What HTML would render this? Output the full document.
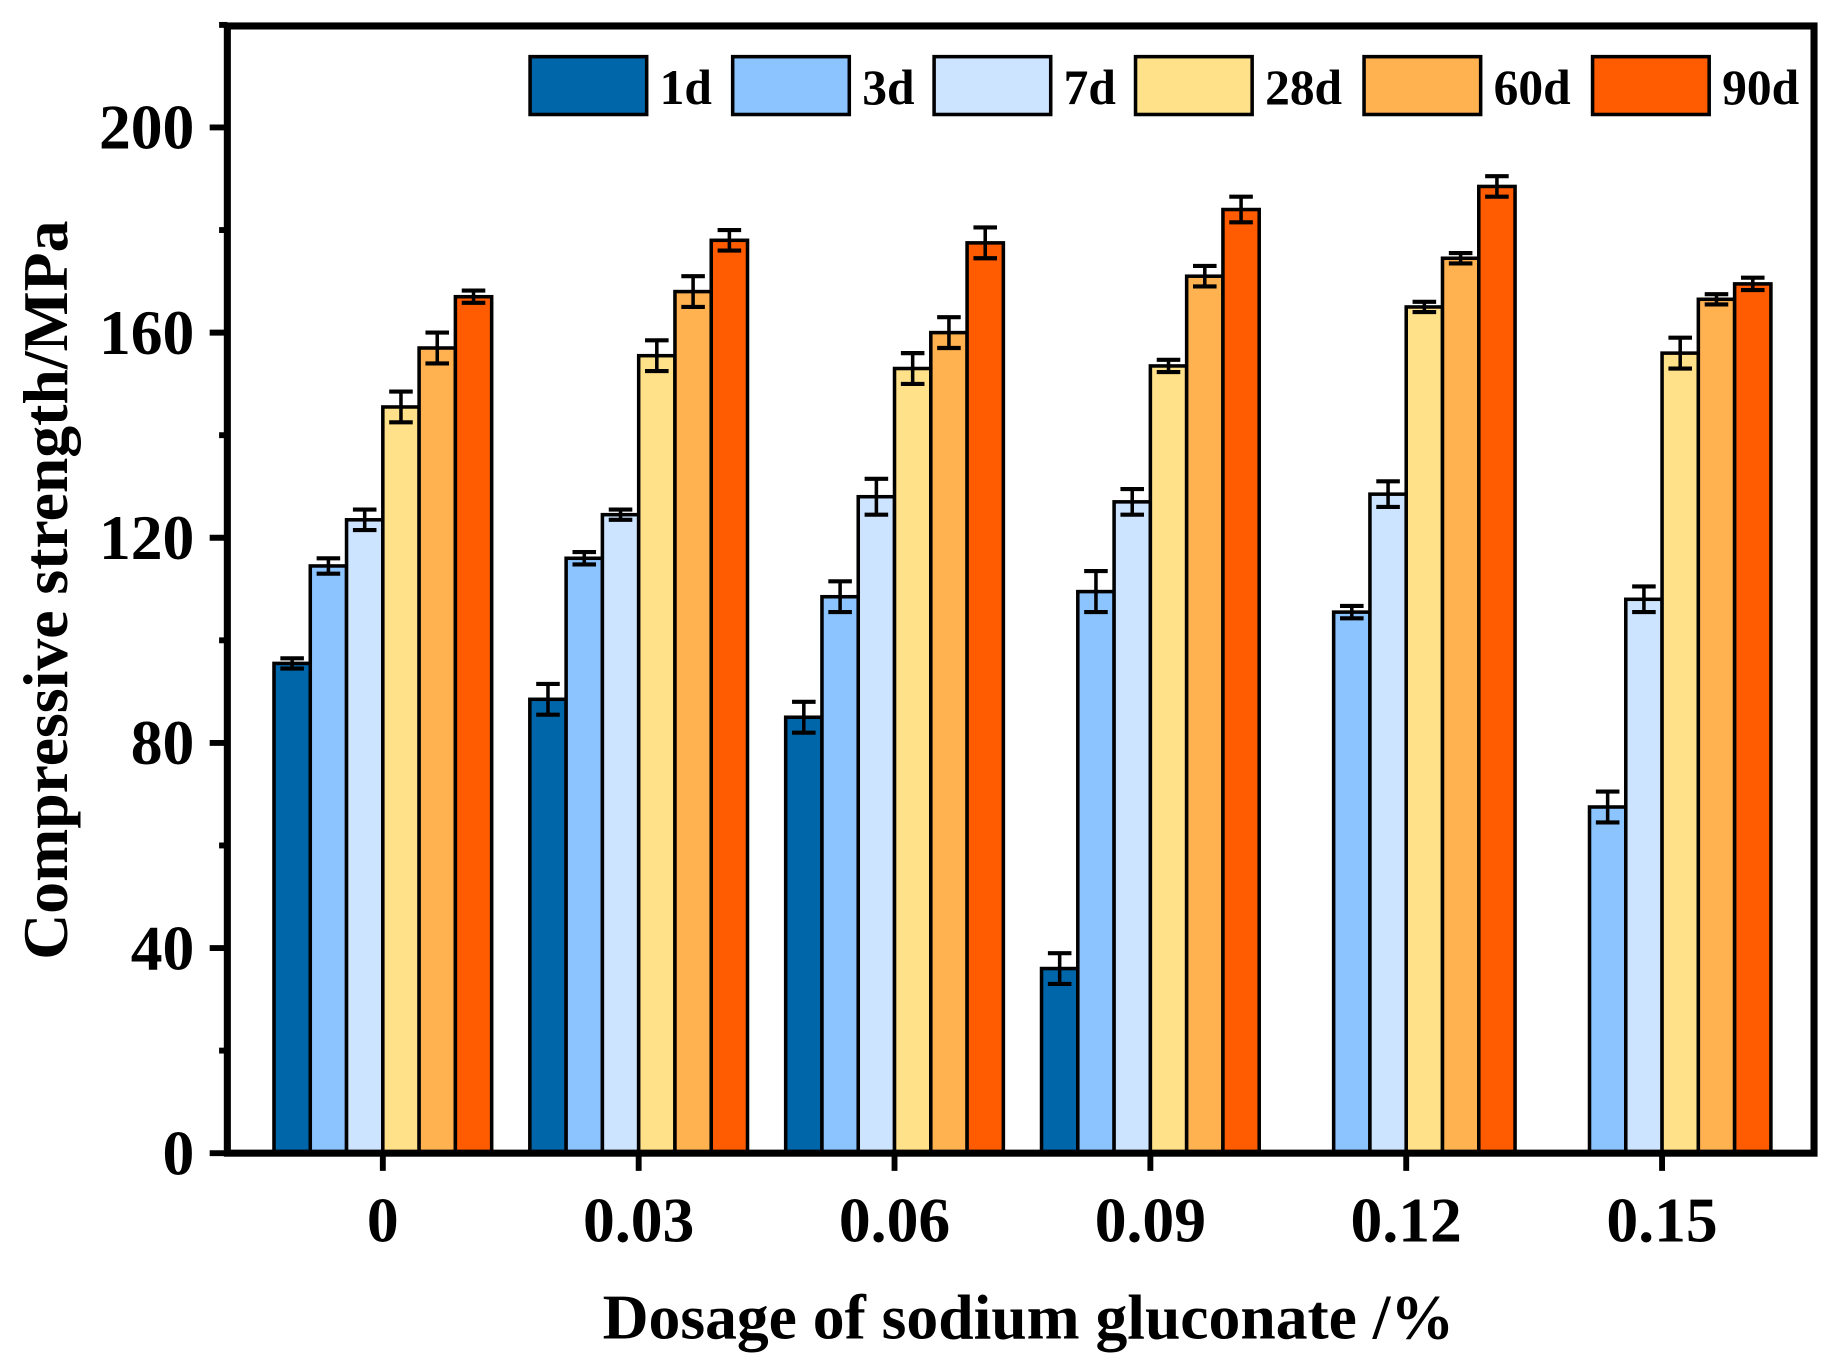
<!DOCTYPE html>
<html><head><meta charset="utf-8"><style>
html,body{margin:0;padding:0;background:#fff;}
svg{display:block;}
text{font-family:"Liberation Serif",serif;font-weight:bold;fill:#000;}
</style></head><body>
<svg id="c" width="1847" height="1355" viewBox="0 0 1568 1148" preserveAspectRatio="none" xmlns="http://www.w3.org/2000/svg">
<rect x="0" y="0" width="1568" height="1148" fill="#fff"/>
<g id="bars"></g>
<rect x="193" y="22" width="1347" height="955" fill="none" stroke="#000" stroke-width="6"/>
<g id="ticks" stroke="#000" stroke-width="5"></g>
<g id="lab" font-size="54"></g>
<text x="873" y="1134" font-size="54" text-anchor="middle">Dosage of sodium gluconate /%</text>
<text transform="translate(57,500) rotate(-90)" font-size="54" text-anchor="middle">Compressive strength/MPa</text>
<g id="leg" font-size="42"></g>
</svg>
<script>
var NS="http://www.w3.org/2000/svg";
function el(p,t,a,txt){var e=document.createElementNS(NS,t);for(var k in a)e.setAttribute(k,a[k]);if(txt!=null)e.textContent=txt;document.getElementById(p).appendChild(e);return e;}
var cols=["#0066aa","#8cc4ff","#cce4ff","#ffe18a","#ffb24f","#ff5b00"];
var vals=[[95.5,114.5,123.5,145.5,157,167],[88.5,116,124.5,155.5,168,178],[85,108.5,128,153,160,177.5],[36,109.5,127,153.5,171,184],[0,105.5,128.5,165,174.5,188.5],[0,67.5,108,156,166.5,169.5]];
var errs=[[1,1.5,2,3,3,1.2],[3,1.2,1,3,3,2],[3,3,3.5,3,3,3],[3,4,2.5,1.2,2,2.5],[0,1.2,2.5,1,1,2],[0,3,2.5,3,1,1.2]];
var cats=["0","0.03","0.06","0.09","0.12","0.15"];
function y(v){return 977-v*4.345;}
var bw=30.8;
for(var g=0;g<6;g++){
 var cx=325+g*217.2;
 for(var i=0;i<6;i++){
  var v=vals[g][i]; if(!v)continue;
  var x=cx-3*bw+i*bw;
  el("bars","rect",{x:x,y:y(v),width:bw,height:977-y(v),fill:cols[i],stroke:"#000","stroke-width":3});
  var m=x+bw/2,e=errs[g][i];
  el("bars","line",{x1:m,x2:m,y1:y(v+e),y2:y(v-e),stroke:"#000","stroke-width":3});
  el("bars","line",{x1:m-10,x2:m+10,y1:y(v+e),y2:y(v+e),stroke:"#000","stroke-width":3.5});
  el("bars","line",{x1:m-10,x2:m+10,y1:y(v-e),y2:y(v-e),stroke:"#000","stroke-width":3.5});
 }
 el("ticks","line",{x1:cx,x2:cx,y1:977,y2:992});
 el("lab","text",{x:cx,y:1052,"text-anchor":"middle"},cats[g]);
}
for(var v=0;v<=220;v+=20){
 var major=v%40==0;
 el("ticks","line",{x1:major?178:186,x2:193,y1:y(v),y2:y(v)});
 if(major)el("lab","text",{x:165,y:y(v)+18,"text-anchor":"end"},String(v));
}
var lx=[450,622,793,964,1158,1352],ln=["1d","3d","7d","28d","60d","90d"];
for(var i=0;i<6;i++){
 el("leg","rect",{x:lx[i],y:48,width:99,height:49,fill:cols[i],stroke:"#000","stroke-width":3});
 el("leg","text",{x:lx[i]+110,y:88},ln[i]);
}
</script>
</body></html>
